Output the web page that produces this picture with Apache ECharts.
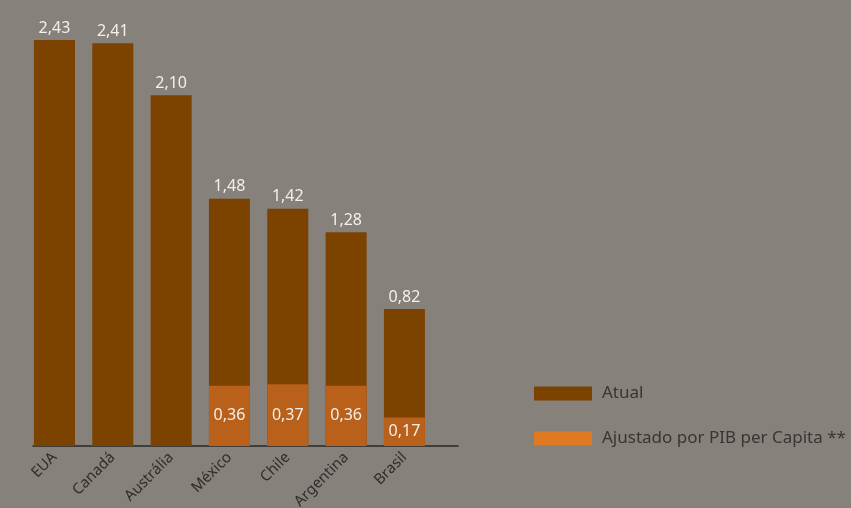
<!DOCTYPE html>
<html>
<head>
<meta charset="utf-8">
<script src="https://cdn.jsdelivr.net/npm/echarts@6/dist/echarts.min.js"></script>
<style>
  html, body { margin: 0; padding: 0; background: #86817a; }
  #main { width: 851px; height: 508px; }
</style>
</head>
<body>
<div id="main"></div>
<script>
// dados do gráfico
var paises = ['EUA', 'Canadá', 'Austrália', 'México', 'Chile', 'Argentina', 'Brasil'];
var atual = [2.43, 2.41, 2.10, 1.48, 1.42, 1.28, 0.82];
var ajustado = [null, null, null, 0.36, 0.37, 0.36, 0.17];
var nomesSeries = ['Atual', 'Ajustado por PIB per Capita **'];

var fmt = function (p) {
    return p.value == null ? '' : p.value.toFixed(2).replace('.', ',');
};

var myChart = echarts.init(document.getElementById('main'));
var option = {
    backgroundColor: '#86817a',
    textStyle: { fontFamily: 'Noto Sans' },
    legend: {
        orient: 'vertical',
        left: 529,
        top: 380,
        itemWidth: 58,
        itemHeight: 14,
        itemGap: 28,
        icon: 'rect',
        textStyle: { color: '#383634', fontSize: 17, padding: [0, 0, 0, 5] },
        data: [
            { name: nomesSeries[0], itemStyle: { color: '#7b4200' } },
            { name: nomesSeries[1], itemStyle: { color: '#e07a22' } }
        ]
    },
    grid: [
        { left: 25.3, width: 408.3, top: 40, bottom: 62, outerBoundsMode: 'none' },
        { left: 33, width: 425, top: 40, bottom: 62, outerBoundsMode: 'none' }
    ],
    xAxis: [
        {
            gridIndex: 0,
            type: 'category',
            data: paises,
            axisLine: { show: false },
            axisTick: { show: false },
            axisLabel: {
                rotate: 45,
                margin: 9,
                color: '#2f2d2b',
                fontSize: 15
            }
        },
        {
            gridIndex: 1,
            type: 'value',
            min: 0,
            max: 1,
            axisLine: { show: true, onZero: false, lineStyle: { color: '#2b2826', width: 1.5 } },
            axisTick: { show: false },
            axisLabel: { show: false },
            splitLine: { show: false }
        }
    ],
    yAxis: [
        { gridIndex: 0, type: 'value', min: 0, max: 2.43, show: false, splitLine: { show: false } },
        { gridIndex: 1, type: 'value', min: 0, max: 1, show: false, splitLine: { show: false } }
    ],
    series: [
        {
            name: nomesSeries[0],
            type: 'bar',
            barWidth: 41,
            barGap: '-100%',
            itemStyle: { color: '#7b4200' },
            label: {
                show: true,
                position: 'top',
                distance: 4,
                color: '#f3f0eb',
                fontSize: 16,
                formatter: fmt
            },
            data: atual
        },
        {
            name: nomesSeries[1],
            type: 'bar',
            barWidth: 41,
            barGap: '-100%',
            itemStyle: { color: '#e07a22' },
            label: {
                show: true,
                position: 'inside',
                color: '#f3f0eb',
                fontSize: 16,
                formatter: fmt
            },
            data: ajustado.map(function (v) {
                return { value: v, itemStyle: { color: '#b9601a' } };
            })
        }
    ]
};
myChart.setOption(option);
</script>
</body>
</html>
